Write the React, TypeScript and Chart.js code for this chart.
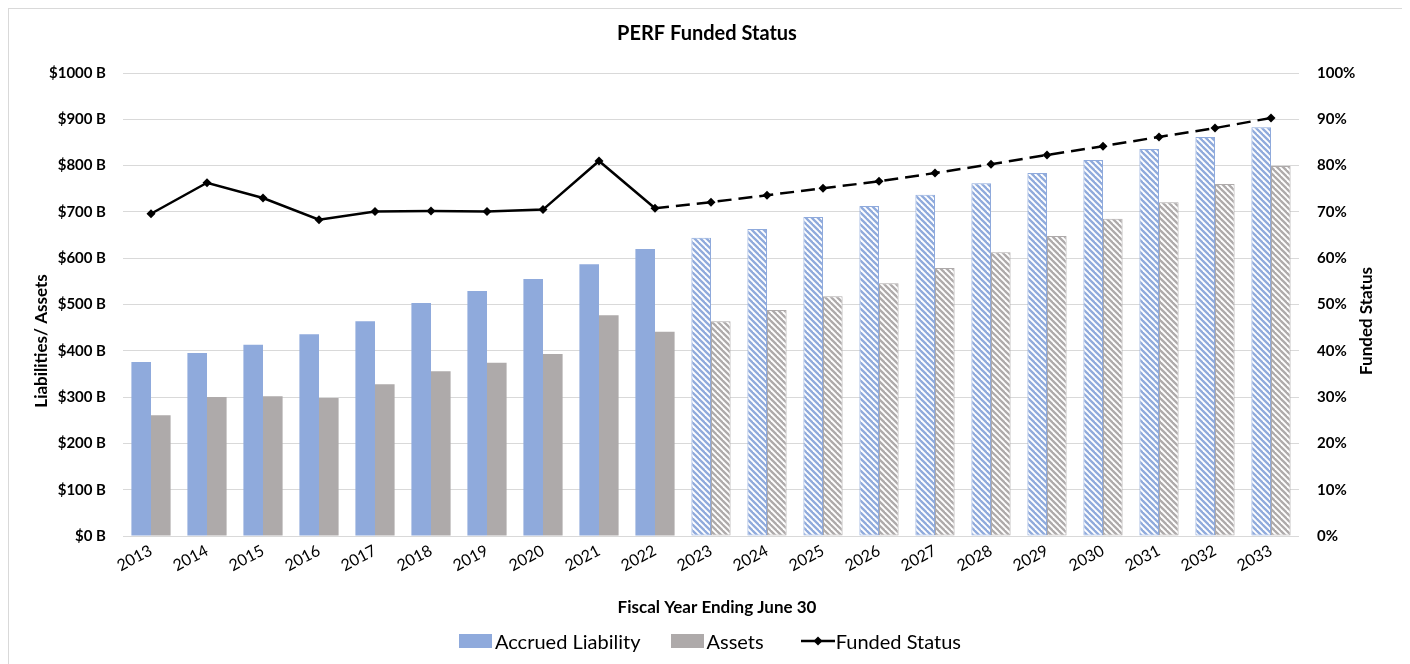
import React, { useEffect, useRef } from "react";
import { Chart, registerables } from "chart.js";

Chart.register(...registerables);

// ---------- data ----------
const years = [
  "2013", "2014", "2015", "2016", "2017", "2018", "2019", "2020", "2021", "2022",
  "2023", "2024", "2025", "2026", "2027", "2028", "2029", "2030", "2031", "2032", "2033",
];
const accruedLiability = [376, 395, 413, 436, 464, 503, 529, 555, 587, 620, 644, 663, 689, 713, 737, 762, 784, 812, 836, 862, 883];
const assets = [261, 300, 302, 298, 328, 356, 374, 393, 477, 441, 464, 488, 518, 546, 579, 613, 648, 685, 721, 760, 799];
const fundedStatus = [69.6, 76.3, 73.0, 68.3, 70.1, 70.2, 70.1, 70.5, 81.0, 70.8, 72.1, 73.6, 75.1, 76.6, 78.4, 80.3, 82.3, 84.2, 86.2, 88.1, 90.3];
const firstProjectedIndex = 10; // 2023 onward are projections

const chartTitle = "PERF Funded Status";
const leftAxisTitle = "Liabilities/ Assets";
const rightAxisTitle = "Funded Status";
const xAxisTitle = "Fiscal Year Ending June 30";
const legendLabels = ["Accrued Liability", "Assets", "Funded Status"];

// ---------- style ----------
const BLUE = "#8FAADC";
const GRAY = "#AEAAAA";
const GRID = "#D9D9D9";
const FONT = "Lato, 'Liberation Sans', sans-serif";

function makeHatch(color: string): CanvasPattern | string {
  const s = 6;
  const c = document.createElement("canvas");
  c.width = s;
  c.height = s;
  const g = c.getContext("2d");
  if (!g) return color;
  g.fillStyle = "#ffffff";
  g.fillRect(0, 0, s, s);
  g.strokeStyle = color;
  g.lineWidth = 2.3;
  for (const x0 of [-s, 0, s]) {
    g.beginPath();
    g.moveTo(x0 - 1, -1);
    g.lineTo(x0 + s + 1, s + 1);
    g.stroke();
  }
  return g.createPattern(c, "repeat") || color;
}

const axisTitlesPlugin = {
  id: "axisTitles",
  afterDraw(chart: any) {
    const { ctx, chartArea } = chart;
    ctx.save();
    ctx.fillStyle = "#000";
    ctx.textAlign = "center";
    ctx.textBaseline = "middle";
    ctx.font = `bold 17px ${FONT}`;
    // left axis title
    ctx.save();
    ctx.translate(chartArea.left - 81, chartArea.top + 268);
    ctx.rotate(-Math.PI / 2);
    ctx.fillText(leftAxisTitle, 0, 0);
    ctx.restore();
    // right axis title
    ctx.save();
    ctx.translate(chartArea.right + 68, chartArea.top + 248);
    ctx.rotate(-Math.PI / 2);
    ctx.fillText(rightAxisTitle, 0, 0);
    ctx.restore();
    // x axis title
    ctx.fillText(xAxisTitle, chartArea.left + 594, chartArea.bottom + 72);
    ctx.restore();
  },
};

export default function App() {
  const canvasRef = useRef<HTMLCanvasElement | null>(null);

  useEffect(() => {
    if (!canvasRef.current) return;
    const blueHatch = makeHatch(BLUE);
    const grayHatch = makeHatch(GRAY);
    const blueFill = years.map((_, i) => (i >= firstProjectedIndex ? blueHatch : BLUE));
    const grayFill = years.map((_, i) => (i >= firstProjectedIndex ? grayHatch : GRAY));

    Chart.defaults.font.family = FONT;
    Chart.defaults.color = "#000";

    const chart = new Chart(canvasRef.current, {
      type: "bar",
      data: {
        labels: years,
        datasets: [
          {
            type: "line",
            label: legendLabels[2],
            data: fundedStatus,
            yAxisID: "y1",
            borderColor: "#000",
            backgroundColor: "#000",
            borderWidth: 2.5,
            pointStyle: "rectRot",
            pointRadius: 4.5,
            pointBackgroundColor: "#000",
            pointBorderColor: "#000",
            pointBorderWidth: 0,
            tension: 0,
            order: 0,
            segment: {
              borderDash: (ctx: any) => (ctx.p0DataIndex >= firstProjectedIndex - 1 ? [14, 7] : undefined),
            },
          } as any,
          {
            type: "bar",
            label: legendLabels[0],
            data: accruedLiability,
            yAxisID: "y",
            backgroundColor: blueFill as any,
            borderColor: BLUE,
            borderWidth: years.map((_, i) => (i >= firstProjectedIndex ? 1 : 0)) as any,
            borderSkipped: false,
            categoryPercentage: 0.7,
            barPercentage: 1.0,
            order: 1,
          },
          {
            type: "bar",
            label: legendLabels[1],
            data: assets,
            yAxisID: "y",
            backgroundColor: grayFill as any,
            borderColor: GRAY,
            borderWidth: years.map((_, i) => (i >= firstProjectedIndex ? 1 : 0)) as any,
            borderSkipped: false,
            categoryPercentage: 0.7,
            barPercentage: 1.0,
            order: 1,
          },
        ],
      },
      options: {
        responsive: false,
        animation: false,
        events: [],
        layout: { padding: 0 },
        plugins: {
          legend: { display: false },
          tooltip: { enabled: false },
          title: {
            display: true,
            text: chartTitle,
            color: "#000",
            font: { family: FONT, size: 20, weight: "bold" },
            padding: { top: 13, bottom: 27 },
          },
        },
        scales: {
          x: {
            grid: { display: false, drawTicks: false },
            border: { display: false },
            ticks: {
              minRotation: 28,
              maxRotation: 28,
              padding: 5,
              font: { family: FONT, size: 16 },
              color: "#000",
            },
            afterFit: (s: any) => {
              s.height = 129;
            },
          },
          y: {
            position: "left",
            min: 0,
            max: 1000,
            grid: { color: GRID, lineWidth: 1, drawTicks: false },
            border: { display: false },
            ticks: {
              stepSize: 100,
              padding: 17,
              font: { family: FONT, size: 15, weight: "bold" },
              color: "#000",
              callback: (v: any) => `$${v} B`,
            },
            afterFit: (s: any) => {
              s.width = 114;
            },
          },
          y1: {
            position: "right",
            min: 0,
            max: 100,
            grid: { drawOnChartArea: false, drawTicks: false },
            border: { display: false },
            ticks: {
              stepSize: 10,
              padding: 18,
              font: { family: FONT, size: 15, weight: "bold" },
              color: "#000",
              callback: (v: any) => `${v}%`,
            },
            afterFit: (s: any) => {
              s.width = 106;
            },
          },
        },
      },
      plugins: [axisTitlesPlugin],
    });
    return () => chart.destroy();
  }, []);

  const legendItem: React.CSSProperties = {
    display: "flex",
    alignItems: "center",
    fontFamily: FONT,
    fontSize: 20,
    color: "#000",
    whiteSpace: "nowrap",
  };

  return (
    <div
      style={{
        position: "relative",
        width: 1398,
        height: 670,
        border: `1px solid ${GRID}`,
        boxSizing: "border-box",
        background: "#fff",
      }}
    >
      <canvas ref={canvasRef} width={1396} height={656} style={{ display: "block", width: 1396, height: 656 }} />
      <div
        style={{
          position: "absolute",
          left: 0,
          width: 1396,
          top: 619,
          height: 26,
          display: "flex",
          justifyContent: "center",
          alignItems: "center",
          paddingLeft: 6,
          boxSizing: "border-box",
        }}
      >
        <div style={{ ...legendItem, marginRight: 30 }}>
          <span style={{ display: "inline-block", width: 33, height: 14, background: BLUE, marginRight: 3 }} />
          {legendLabels[0]}
        </div>
        <div style={{ ...legendItem, marginRight: 37 }}>
          <span style={{ display: "inline-block", width: 33, height: 14, background: GRAY, marginRight: 3 }} />
          {legendLabels[1]}
        </div>
        <div style={legendItem}>
          <svg width={34} height={14} style={{ marginRight: 1 }}>
            <line x1={0} y1={7} x2={34} y2={7} stroke="#000" strokeWidth={2.5} />
            <polygon points="17,2.5 21.5,7 17,11.5 12.5,7" fill="#000" />
          </svg>
          {legendLabels[2]}
        </div>
      </div>
    </div>
  );
}
